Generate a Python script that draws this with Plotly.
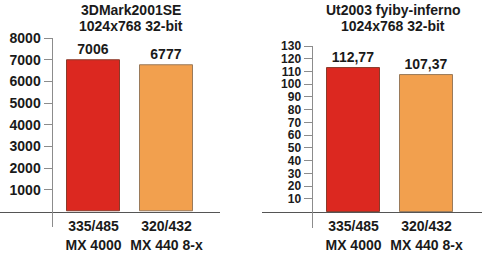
import plotly.graph_objects as go

W, H = 482, 253

categories = ["335/485<br>MX 4000", "320/432<br>MX 440 8-x"]
scores_3dmark = [7006, 6777]
labels_3dmark = ["7006", "6777"]
scores_ut2003 = [112.77, 107.37]
labels_ut2003 = ["112,77", "107,37"]
ticks_3dmark = [1000, 2000, 3000, 4000, 5000, 6000, 7000, 8000]
ticks_ut2003 = [10, 20, 30, 40, 50, 60, 70, 80, 90, 100, 110, 120, 130]
title_3dmark = ["3DMark2001SE", "1024x768 32-bit"]
title_ut2003 = ["Ut2003 fyiby-inferno", "1024x768 32-bit"]

bar_colors = ["#dc2820", "#f2a04e"]
edge_colors = ["#8a3a2a", "#9a7a5a"]

FONT = "Liberation Sans, Arial, sans-serif"

def px(x):
    return x / W

def py(y):
    return 1 - y / H

fig = go.Figure()

fig.add_trace(go.Bar(
    x=[0, 1], y=scores_3dmark, width=0.73,
    marker=dict(color=bar_colors, line=dict(color=edge_colors, width=1)),
    text=labels_3dmark, textposition="outside", cliponaxis=False,
    textfont=dict(family=FONT, size=14, color="#1a1a1a", weight="bold"),
    xaxis="x", yaxis="y", hoverinfo="skip",
))
fig.add_trace(go.Bar(
    x=[0, 1], y=scores_ut2003, width=0.73,
    marker=dict(color=bar_colors, line=dict(color=edge_colors, width=1)),
    text=labels_ut2003, textposition="outside", cliponaxis=False,
    textfont=dict(family=FONT, size=14, color="#1a1a1a", weight="bold"),
    xaxis="x2", yaxis="y2", hoverinfo="skip",
))

tickfont = dict(family=FONT, size=14, color="#1a1a1a", weight="bold")
tickfont_r = dict(family=FONT, size=12, color="#1a1a1a", weight="bold")

# Left chart geometry
y_top_l, y_zero_l, y_bot_l = 33, 222, 239
unit_l = (y_zero_l - y_top_l) / 8000
rng_l = [-(y_bot_l - y_zero_l) / unit_l, 8000]

# Right chart geometry
y_top_r, y_zero_r, y_bot_r = 41.5, 222, 240
unit_r = (y_zero_r - y_top_r) / 130
rng_r = [-(y_bot_r - y_zero_r) / unit_r, 130]

step = 73.0
xl0, xl1 = 0, 220
xr0, xr1 = 262, 482
c0_l = 93.5
c0_r = 353.5

fig.update_layout(
    width=W, height=H,
    margin=dict(l=0, r=0, t=0, b=0),
    paper_bgcolor="white", plot_bgcolor="rgba(0,0,0,0)",
    showlegend=False, bargap=0,
    font=dict(family=FONT),
    xaxis=dict(
        domain=[px(xl0), px(xl1)],
        range=[-(c0_l - xl0) / step, -(c0_l - xl0) / step + (xl1 - xl0) / step],
        anchor="free", position=py(y_zero_l),
        showline=True, linecolor="#555555", linewidth=1,
        tickvals=[0, 1], ticktext=categories, ticks="", ticklabelstandoff=2,
        tickfont=tickfont, showgrid=False, zeroline=False, fixedrange=True,
    ),
    yaxis=dict(
        domain=[py(y_bot_l), py(y_top_l)], range=rng_l,
        anchor="free", position=px(51.5),
        showline=True, linecolor="#8c8c8c", linewidth=1,
        tickvals=ticks_3dmark, ticks="outside", ticklen=8, tickcolor="#8c8c8c",
        tickfont=tickfont, showgrid=False, zeroline=False, fixedrange=True,
    ),
    xaxis2=dict(
        domain=[px(xr0), px(xr1)],
        range=[-(c0_r - xr0) / step, -(c0_r - xr0) / step + (xr1 - xr0) / step],
        anchor="free", position=py(y_zero_r),
        showline=True, linecolor="#555555", linewidth=1,
        tickvals=[0, 1], ticktext=categories, ticks="", ticklabelstandoff=2,
        tickfont=tickfont, showgrid=False, zeroline=False, fixedrange=True,
    ),
    yaxis2=dict(
        domain=[py(y_bot_r), py(y_top_r)], range=rng_r,
        anchor="free", position=px(311.5),
        showline=True, linecolor="#8c8c8c", linewidth=1,
        tickvals=ticks_ut2003, ticks="outside", ticklen=8, tickcolor="#8c8c8c",
        tickfont=tickfont_r, showgrid=False, zeroline=False, fixedrange=True,
    ),
)

title_font = dict(family=FONT, size=14, color="#1a1a1a", weight="bold")
for lines, cx in ((title_3dmark, 131), (title_ut2003, 393)):
    for i, line in enumerate(lines):
        fig.add_annotation(
            text=line, xref="paper", yref="paper",
            x=px(cx), y=py(2.5 + 17 * i), xanchor="center", yanchor="middle",
            showarrow=False, font=title_font, borderpad=0,
        )

fig.write_html("out.html")
